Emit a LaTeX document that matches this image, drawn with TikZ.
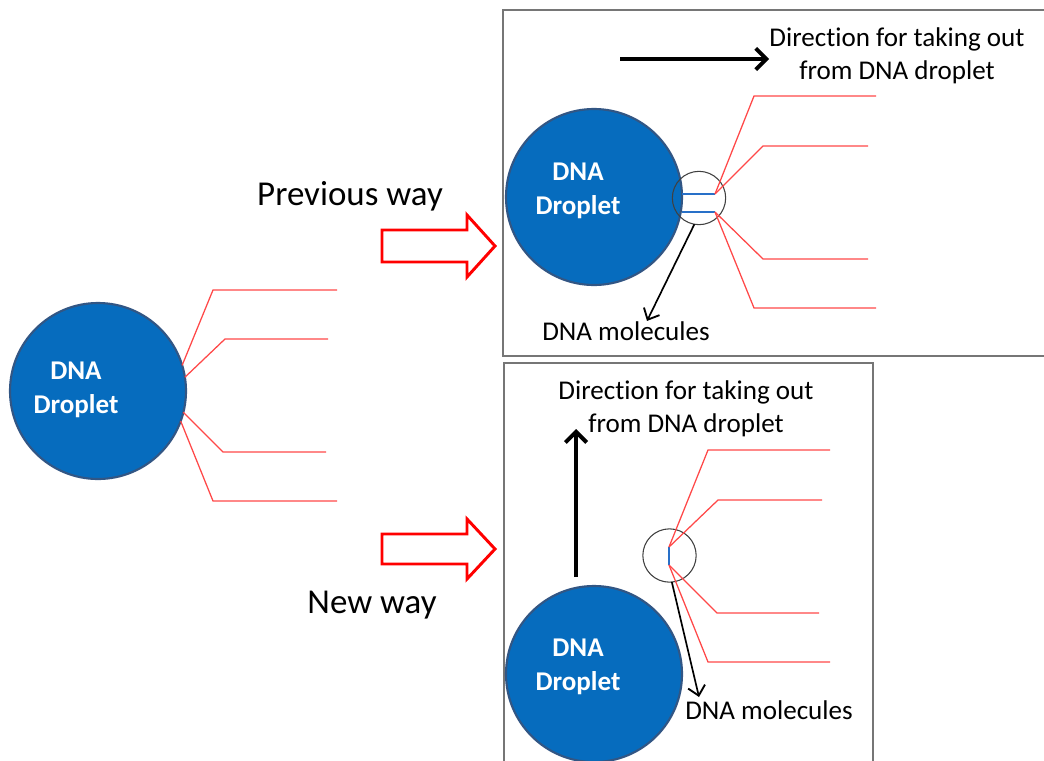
\documentclass[tikz,border=0pt]{standalone}
\usepackage{fontspec}
\setmainfont{Carlito}[Ligatures={NoCommon}]
\usetikzlibrary{arrows.meta}

\definecolor{dropblue}{RGB}{6,108,190}
\definecolor{droprim}{RGB}{50,86,132}
\definecolor{strand}{RGB}{255,72,72}
\definecolor{framegray}{RGB}{118,118,118}
\definecolor{tipblue}{RGB}{40,112,200}
\definecolor{shiftred}{RGB}{255,0,0}

\begin{document}
\begin{tikzpicture}[x=0.75pt,y=-0.75pt,
  droplet/.style={circle,fill=dropblue,draw=droprim,line width=1.6pt,
    minimum size=132pt,inner sep=0pt,outer sep=0pt},
  droptext/.style={text=white,align=center,anchor=base,inner sep=0pt,
    font=\fontsize{20.3}{24.8}\selectfont\bfseries},
  strandline/.style={draw=strand,line width=0.95pt},
  tipline/.style={draw=tipblue,line width=1.3pt},
  lens/.style={circle,draw=black!75,line width=0.8pt,minimum size=40pt,
    inner sep=0pt,outer sep=0pt},
  panel/.style={draw=framegray,line width=1.5pt},
  hollow/.style={draw=shiftred,fill=white,line width=2.2pt,line join=miter},
  label/.style={align=center,anchor=base,inner sep=0pt,
    font=\fontsize{20.3}{24.5}\selectfont},
  bigtext/.style={anchor=base,inner sep=0pt,font=\fontsize{26.2}{31}\selectfont},
  pull/.style={draw=black,line width=3pt,
    -{Straight Barb[length=8pt,width=16pt,line width=3pt]}},
  pointer/.style={draw=black,line width=1.25pt,
    -{Straight Barb[length=7pt,width=13pt,line width=1.4pt]}}
]
\clip (0,0) rectangle (1044,760);

% ---------- free droplet on the left ----------
% multi-line labels are placed by the baseline of their last line
\node[droplet] (d1) at (98,391) {};
\node[droptext] (t1) at (76,413) {DNA\\Droplet};
\coordinate (b1a) at (213,290);  \coordinate (e1a) at (337,290);
\coordinate (b1b) at (225,339);  \coordinate (e1b) at (328,339);
\coordinate (b1c) at (223,452);  \coordinate (e1c) at (326,452);
\coordinate (b1d) at (213,501);  \coordinate (e1d) at (337,501);
\draw[strandline] (d1.17)  -- (b1a) -- (e1a);
\draw[strandline] (d1.9)   -- (b1b) -- (e1b);
\draw[strandline] (d1.-14) -- (b1c) -- (e1c);
\draw[strandline] (d1.-20) -- (b1d) -- (e1d);

% ---------- the two hollow arrows and their captions ----------
\draw[hollow] (382,230) -- (467,230) -- (467,215) -- (495,246)
  -- (467,277) -- (467,262) -- (382,262) -- cycle;
\draw[hollow] (382,534) -- (467,534) -- (467,519) -- (495,549)
  -- (467,579) -- (467,564) -- (382,564) -- cycle;
\node[bigtext] (prev) at (350,205) {Previous way};
\node[bigtext] (new) at (372,613) {New way};

% ---------- upper panel: pulling sideways ----------
\draw[panel] (503,10) rectangle (1060,356);
\node[droplet] (d2) at (594,197) {};
\node[droptext] (t2) at (578,214) {DNA\\Droplet};
\node[lens] (l2) at (699,198) {};
\coordinate (s2a) at (682,194); \coordinate (s2b) at (715,194);
\coordinate (s2c) at (682,212); \coordinate (s2d) at (715,212);
\draw[tipline] (s2a) -- (s2b);
\draw[tipline] (s2c) -- (s2d);
\coordinate (b2a) at (754,96);  \coordinate (e2a) at (876,96);
\coordinate (b2b) at (763,146); \coordinate (e2b) at (868,146);
\coordinate (b2c) at (763,259); \coordinate (e2c) at (868,259);
\coordinate (b2d) at (754,308); \coordinate (e2d) at (876,308);
\draw[strandline] (s2b) -- (b2a) -- (e2a);
\draw[strandline] (s2b) -- (b2b) -- (e2b);
\draw[strandline] (s2d) -- (b2c) -- (e2c);
\draw[strandline] (s2d) -- (b2d) -- (e2d);
\node[label] (m2) at (626,340) {DNA molecules};
\draw[pointer] (l2.-100) -- (m2.north -| 647,0);
\coordinate (p2s) at (620,59);
\node[label] (dir2) at (897,79) {Direction for taking out\\from DNA droplet};
\draw[pull] (p2s) -- (dir2.west |- p2s);

% ---------- lower panel: pulling upwards ----------
\draw[panel] (504,363) rectangle (873,775);
\node[droplet] (d3) at (594,674) {};
\node[droptext] (t3) at (578,690) {DNA\\Droplet};
\node[lens] (l3) at (669.5,555.5) {};
\coordinate (s3a) at (669,547); \coordinate (s3b) at (669,565);
\draw[tipline] (s3a) -- (s3b);
\coordinate (b3a) at (708,450); \coordinate (e3a) at (830,450);
\coordinate (b3b) at (718,500); \coordinate (e3b) at (822,500);
\coordinate (b3c) at (717,613); \coordinate (e3c) at (819,613);
\coordinate (b3d) at (708,662); \coordinate (e3d) at (830,662);
\draw[strandline] (s3a) -- (b3a) -- (e3a);
\draw[strandline] (s3a) -- (b3b) -- (e3b);
\draw[strandline] (s3b) -- (b3c) -- (e3c);
\draw[strandline] (s3b) -- (b3d) -- (e3d);
\node[label] (m3) at (769,719) {DNA molecules};
\coordinate (m3tip) at (699,697);
\draw[pointer] (l3.-85) -- (m3tip);
\node[label] (dir3) at (686,432) {Direction for taking out\\from DNA droplet};
\coordinate (p3s) at (576,577);
\coordinate (p3e) at (576,429);
\draw[pull] (p3s) -- (p3e);
\end{tikzpicture}
\end{document}
